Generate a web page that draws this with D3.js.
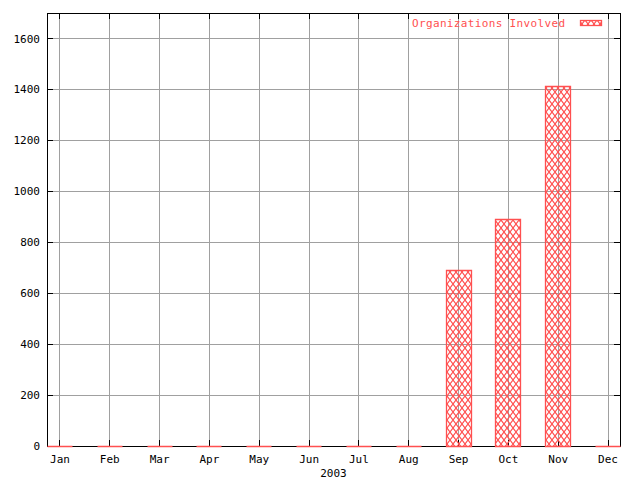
<!DOCTYPE html>
<html>
<head>
<meta charset="utf-8">
<script src="https://cdn.jsdelivr.net/npm/d3@7"></script>
<style>
  html, body { margin: 0; padding: 0; background: #fff; }
  svg { display: block; }
  text { font-family: "DejaVu Sans Mono", "Liberation Mono", monospace; font-size: 11px; }
</style>
</head>
<body>
<svg id="chart" width="640" height="480"></svg>
<script>
const months = ["Jan","Feb","Mar","Apr","May","Jun","Jul","Aug","Sep","Oct","Nov","Dec"];
const monthIndex = [1,2,3,4,5,6,7,8,9,10,11,12];
const organizations = [0,0,0,0,0,0,0,0,690,890,1413,0];
const yTicks = [0,200,400,600,800,1000,1200,1400,1600];
const seriesName = "Organizations Involved";
const xLabel = "2003";

const mLeft = 47, mRight = 620, mTop = 13, mBottom = 446;
const red = "#ff5050";

const svg = d3.select("#chart");

const x = d3.scaleLinear().domain([0.75, 12.25]).range([mLeft, mRight]);
const y = d3.scaleLinear().domain([0, 1700]).range([mBottom, mTop]);

// pattern
const defs = svg.append("defs");
const pat = defs.append("pattern")
  .attr("id", "xhatch").attr("patternUnits", "userSpaceOnUse")
  .attr("width", 6).attr("height", 8);
pat.append("path").attr("d", "M0,0 L6,8 M6,0 L0,8")
  .attr("stroke", red).attr("stroke-width", 1.2).attr("fill", "none");

// grid
const gridX = svg.append("g").attr("transform", `translate(0,${mBottom})`)
  .call(d3.axisBottom(x).tickValues(monthIndex).tickSize(-(mBottom - mTop)).tickFormat(""));
const gridY = svg.append("g").attr("transform", `translate(${mLeft},0)`)
  .call(d3.axisLeft(y).tickValues(yTicks).tickSize(-(mRight - mLeft)).tickFormat(""));
[gridX, gridY].forEach(g => {
  g.select(".domain").remove();
  g.selectAll("line").attr("stroke", "#a0a0a0").attr("stroke-width", 1).attr("shape-rendering", "crispEdges");
});

// border
svg.append("rect").attr("x", mLeft + 0.5).attr("y", mTop + 0.5)
  .attr("width", mRight - mLeft).attr("height", mBottom - mTop)
  .attr("fill", "none").attr("stroke", "#000").attr("stroke-width", 1)
  .attr("shape-rendering", "crispEdges");

// axes with inward ticks
function styleAxis(g) {
  g.select(".domain").remove();
  g.selectAll("line").attr("stroke", "#000").attr("shape-rendering", "crispEdges");
  g.selectAll("text").attr("fill", "#000").style("font-family", "'DejaVu Sans Mono', monospace").style("font-size", "11px");
}
svg.append("g").attr("transform", `translate(0,${mBottom})`)
  .call(d3.axisBottom(x).tickValues(monthIndex).tickSize(-6).tickPadding(9)
    .tickFormat((d, i) => months[i])).call(styleAxis);
svg.append("g").attr("transform", `translate(0,${mTop})`)
  .call(d3.axisTop(x).tickValues(monthIndex).tickSize(-6).tickFormat("")).call(styleAxis);
svg.append("g").attr("transform", `translate(${mLeft},0)`)
  .call(d3.axisLeft(y).tickValues(yTicks).tickSize(-6).tickPadding(7).tickFormat(d3.format("d"))).call(styleAxis);
svg.append("g").attr("transform", `translate(${mRight},0)`)
  .call(d3.axisRight(y).tickValues(yTicks).tickSize(-6).tickFormat("")).call(styleAxis);

// bars (drawn over the border, as in the reference)
const bw = 0.5;
svg.append("g").selectAll("path").data(organizations).join("path")
  .attr("d", (v, i) => {
    const x0 = Math.round(x(monthIndex[i] - bw / 2)) + 0.5, x1 = Math.round(x(monthIndex[i] + bw / 2)) + 0.5;
    const y0 = Math.round(y(0)) + 0.5, y1 = Math.round(y(v)) + 0.5;
    return `M${x0},${y0} V${y1} H${x1} V${y0} Z`;
  })
  .attr("fill", "url(#xhatch)")
  .attr("stroke", red).attr("stroke-width", 1.3);

// x label
svg.append("text").attr("x", (mLeft + mRight) / 2).attr("y", 477)
  .attr("text-anchor", "middle").attr("fill", "#000").text(xLabel);

// legend
svg.append("text").attr("x", 412).attr("y", 27)
  .attr("textLength", 153).attr("lengthAdjust", "spacing")
  .attr("fill", red).text(seriesName);
svg.append("rect").attr("x", 580.5).attr("y", 20.5).attr("width", 21).attr("height", 5)
  .attr("fill", "url(#xhatch)").attr("stroke", red).attr("stroke-width", 1.3);
</script>
</body>
</html>
